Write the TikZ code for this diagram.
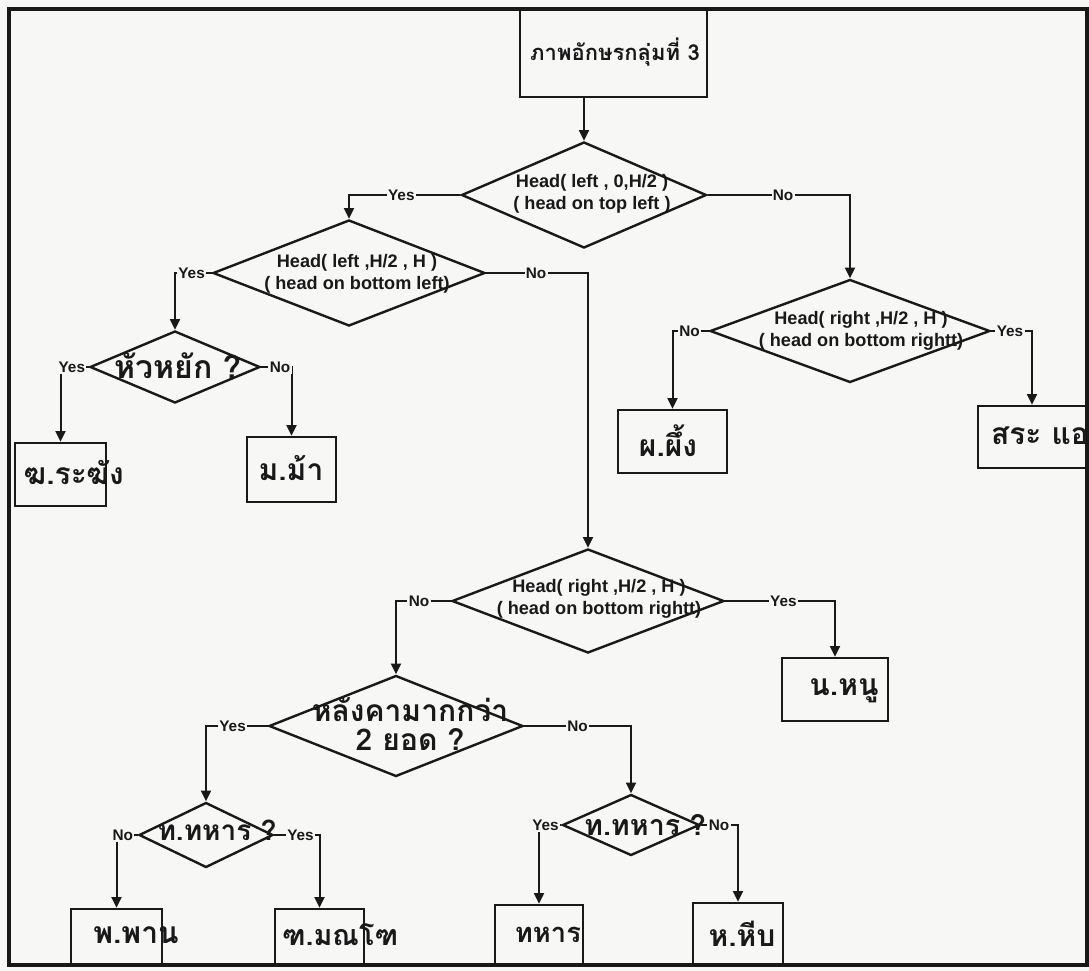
\documentclass[tikz,border=0pt]{standalone}
\usepackage{fontspec}
\newfontfamily\thai[Script=Thai]{Loma}
\newfontfamily\arial{Liberation Sans}
\usetikzlibrary{shapes.geometric,arrows.meta}
\definecolor{paper}{RGB}{247,247,246}
\definecolor{ink}{RGB}{25,25,25}

\begin{document}
\begin{tikzpicture}[x=0.75pt,y=-0.75pt,
  shapeline/.style={draw=ink, line width=1.8pt},
  decision/.style={shapeline, diamond, inner sep=0pt},
  leaf/.style={shapeline, rectangle, inner sep=0pt},
  thaitext/.style={inner sep=0pt, font=\thai\bfseries\fontsize{22.5}{22}\selectfont, text=ink, align=center},
  headtext/.style={inner sep=0pt, font=\arial\bfseries\fontsize{13.6}{16.5}\selectfont, text=ink, align=center},
  branch/.style={inner sep=1pt, fill=paper, font=\arial\bfseries\fontsize{11.5}{12}\selectfont, text=ink},
  flow/.style={draw=ink, line width=1.5pt, -{Triangle[length=8pt,width=7.5pt]}},
]
% page and frame
\fill[paper] (0,0) rectangle (1089,971);
\useasboundingbox (0,0) rectangle (1089,971);
\draw[ink, line width=2.5pt] (9,9) rectangle (1087,965);

% start box
\node[leaf, minimum width=140.25pt, minimum height=65.25pt] (start) at (613.5,53.5) {};
\node[thaitext, font=\thai\bfseries\fontsize{16.5}{20}\selectfont] (startT) at (615,52) {ภาพอักษรกลุ่มที่ 3};

% decisions
\node[decision, minimum width=183.75pt, minimum height=79.5pt] (q1) at (584,195) {};
\node[headtext] (q1T) at (592,194) {Head( left , 0,H/2 )\\( head on top left )};

\node[decision, minimum width=204pt, minimum height=79.5pt] (q2) at (349,273) {};
\node[headtext] (q2T) at (357,274) {Head( left ,H/2 , H )\\( head on bottom left)};

\node[decision, minimum width=127.5pt, minimum height=54pt] (q3) at (175,367) {};
\node[thaitext, font=\thai\bfseries\fontsize{24}{22}\selectfont] (q3T) at (178,366) {หัวหยัก ?};

\node[decision, minimum width=210pt, minimum height=77.25pt] (q5) at (850,331) {};
\node[headtext] (q5T) at (861,331) {Head( right ,H/2 , H )\\( head on bottom rightt)};

\node[decision, minimum width=204pt, minimum height=78pt] (q4) at (588,601) {};
\node[headtext] (q4T) at (599,599) {Head( right ,H/2 , H )\\( head on bottom rightt)};

\node[decision, minimum width=190.5pt, minimum height=75.75pt] (q6) at (396,726) {};
\node[thaitext] (q6T) at (410,724) {หลังคามากกว่า\\2 ยอด ?};

\node[decision, minimum width=100.5pt, minimum height=48.75pt] (q7) at (206,835) {};
\node[thaitext, font=\thai\bfseries\fontsize{21}{22}\selectfont] (q7T) at (217,830) {ท.ทหาร ?};

\node[decision, minimum width=102.75pt, minimum height=45.75pt] (q8) at (631,825) {};
\node[thaitext, font=\thai\bfseries\fontsize{21.5}{22}\selectfont] (q8T) at (645,825) {ท.ทหาร ?};

% leaves
\node[leaf, minimum width=68.25pt, minimum height=47.25pt] (kh) at (60.5,474.5) {};
\node[thaitext] (khT) at (74,472) {ฆ.ระฆัง};

\node[leaf, minimum width=66.75pt, minimum height=48.75pt] (ma) at (291.5,469.5) {};
\node[thaitext] (maT) at (291,468) {ม.ม้า};

\node[leaf, minimum width=81.75pt, minimum height=47.25pt] (pho) at (672.5,441.5) {};
\node[thaitext] (phoT) at (668,441) {ผ.ผึ้ง};

\node[leaf, minimum width=81pt, minimum height=46.5pt] (sae) at (1032,437) {};
\node[thaitext] (saeT) at (1040,436) {สระ แอ};

\node[leaf, minimum width=79.5pt, minimum height=47.25pt] (no) at (835,689.5) {};
\node[thaitext] (noT) at (844,691) {น.หนู};

\node[leaf, minimum width=68.25pt, minimum height=41.25pt] (phan) at (116.5,936.5) {};
\node[thaitext] (phanT) at (136,935) {พ.พาน};

\node[leaf, minimum width=66.75pt, minimum height=41.25pt] (montho) at (319.5,936.5) {};
\node[thaitext, font=\thai\bfseries\fontsize{21.5}{22}\selectfont] (monthoT) at (340,935) {ฑ.มณโฑ};

\node[leaf, minimum width=66pt, minimum height=44.25pt] (thahan) at (539,934.5) {};
\node[thaitext, font=\thai\bfseries\fontsize{20.5}{22}\selectfont] (thahanT) at (548,935) {ทหาร};

\node[leaf, minimum width=67.5pt, minimum height=45.75pt] (hip) at (738,933.5) {};
\node[thaitext] (hipT) at (742,934) {ห.หีบ};

% connectors
\draw[flow] (start.south -| q1.north) -- (q1.north);
\draw[flow] (q1.west) -- node[branch,pos=0.53] (l1y) {Yes} (q1.west -| q2.north) -- (q2.north);
\draw[flow] (q1.east) -- node[branch,pos=0.53] (l1n) {No} (q1.east -| q5.north) -- (q5.north);
\draw[flow] (q2.west) -- node[branch,pos=0.55] (l2y) {Yes} (q2.west -| q3.north) -- (q3.north);
\draw[flow] (q2.east) -- node[branch,pos=0.49] (l2n) {No} (q2.east -| q4.north) -- (q4.north);
\draw[flow] (q3.west) -- node[branch,pos=0.6] (l3y) {Yes} (q3.west -| kh.north) -- (kh.north);
\draw[flow] (q3.east) -- node[branch,pos=0.62] (l3n) {No} (q3.east -| ma.north) -- (ma.north);
\draw[flow] (q5.west) -- node[branch,pos=0.53] (l5n) {No} (q5.west -| pho.north) -- (pho.north);
\draw[flow] (q5.east) -- node[branch,pos=0.46] (l5y) {Yes} (q5.east -| sae.north) -- (sae.north);
\draw[flow] (q4.east) -- node[branch,pos=0.53] (l4y) {Yes} (q4.east -| no.north) -- (no.north);
\draw[flow] (q4.west) -- node[branch,pos=0.58] (l4n) {No} (q4.west -| q6.north) -- (q6.north);
\draw[flow] (q6.west) -- node[branch,pos=0.57] (l6y) {Yes} (q6.west -| q7.north) -- (q7.north);
\draw[flow] (q6.east) -- node[branch,pos=0.5] (l6n) {No} (q6.east -| q8.north) -- (q8.north);
\draw[flow] (q7.west) -- node[branch,pos=0.7] (l7n) {No} (q7.west -| phan.north) -- (phan.north);
\draw[flow] (q7.east) -- node[branch,pos=0.58] (l7y) {Yes} (q7.east -| montho.north) -- (montho.north);
\draw[flow] (q8.west) -- node[branch,pos=0.71] (l8y) {Yes} (q8.west -| thahan.north) -- (thahan.north);
\draw[flow] (q8.east) -- node[branch,pos=0.49] (l8n) {No} (q8.east -| hip.north) -- (hip.north);
\end{tikzpicture}
\end{document}
